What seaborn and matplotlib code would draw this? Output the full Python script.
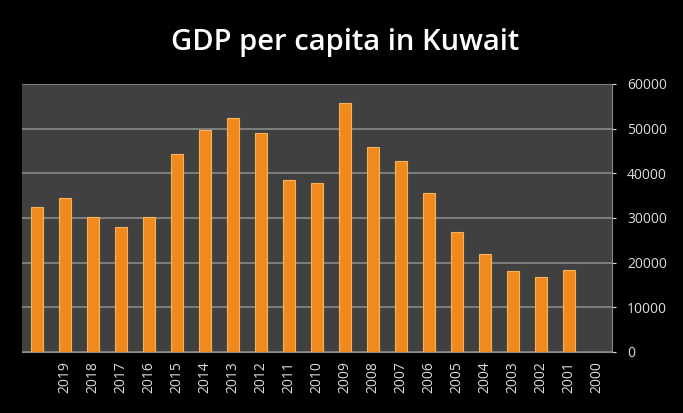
import numpy as np
import pandas as pd
import matplotlib
matplotlib.use("Agg")
import matplotlib.pyplot as plt
import seaborn as sns

sns.set_style("dark")
plt.rcParams['font.family'] = ['Open Sans', 'DejaVu Sans']

# the original chart shows its year labels shifted one slot to the right of the bars
year_labels = ["", "2019", "2018", "2017", "2016", "2015", "2014", "2013", "2012", "2011",
               "2010", "2009", "2008", "2007", "2006", "2005", "2004", "2003", "2002",
               "2001", "2000"]
gdp_values = [32400, 34500, 30100, 27900, 30100, 44200, 49600, 52300, 48900, 38500,
              37700, 55700, 45800, 42800, 35500, 26900, 22000, 18000, 16700, 18400,
              np.nan]

df = pd.DataFrame({"slot": [str(i) for i in range(len(year_labels))],
                   "GDP": gdp_values})

fig = plt.figure(figsize=(6.83, 4.13), dpi=100, facecolor="black")
ax = fig.add_axes([0.032, 0.148, 0.864, 0.649])
ax.set_facecolor("#404040")

sns.barplot(data=df, x="slot", y="GDP", color="#f08a1e", width=0.43,
            saturation=1, edgecolor="#f6b45a", linewidth=0.8, ax=ax)

ax.set_ylim(0, 60000)
ax.set_yticks(range(0, 60001, 10000))
ax.yaxis.tick_right()
ax.grid(axis="y", color="#8a8a8a", linewidth=1.2)
ax.grid(axis="x", visible=False)
ax.set_axisbelow(True)
ax.set_xticks(range(len(year_labels)))
ax.set_xticklabels(year_labels, rotation=90)
ax.set_xlim(-0.55, len(year_labels) - 0.45)
ax.set_xlabel("")
ax.set_ylabel("")
ax.tick_params(axis="both", colors="#dcdcdc", labelsize=10, length=3)
ax.tick_params(axis="y", pad=8)
for side in ["top", "left"]:
    ax.spines[side].set_visible(False)
ax.spines["bottom"].set_color("#8a8a8a")
ax.spines["right"].set_color("#8a8a8a")

fig.text(0.505, 0.897, "GDP per capita in Kuwait", color="white", fontsize=21,
         fontweight="semibold", ha="center", va="center")

fig.savefig("out.png", dpi=100, facecolor="black")
